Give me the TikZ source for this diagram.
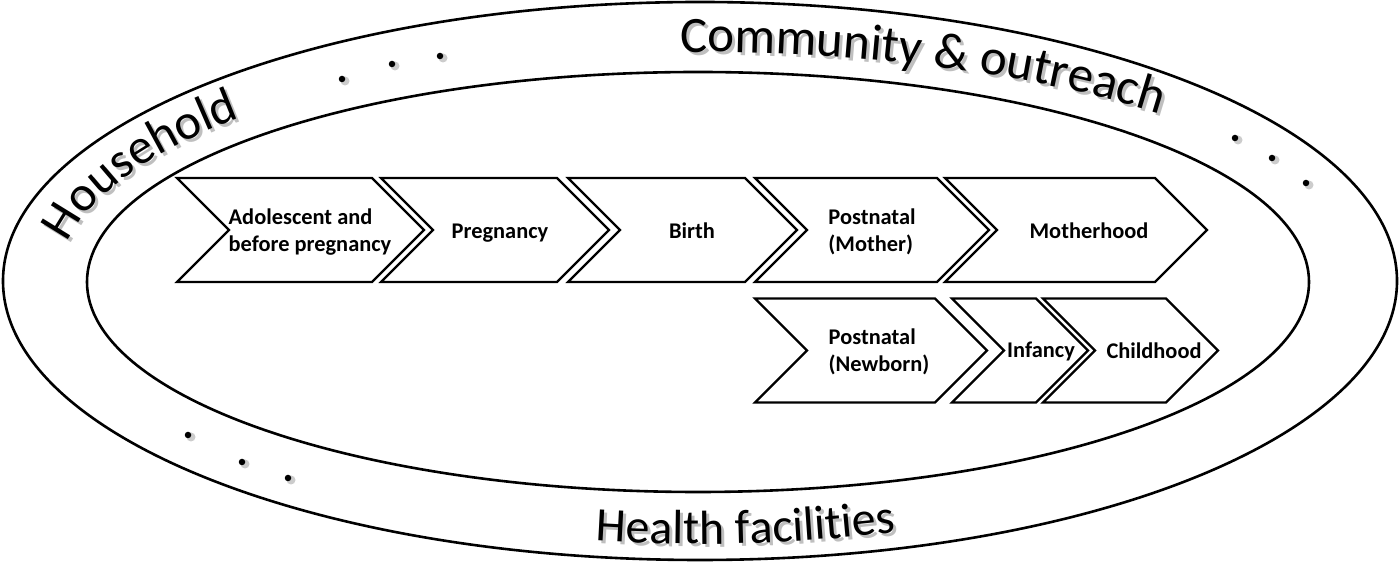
\documentclass[tikz,border=0pt]{standalone}
\usepackage{fontspec}
\setmainfont{Carlito}
\newfontfamily\wordart{Carlito}
\usetikzlibrary{decorations.text}
\tikzset{
  ring/.style={draw, line width=2.6pt},
  chev/.style={draw, line width=2.2pt, line join=miter},
  lab/.style={font=\bfseries\fontsize{22.4}{27}\selectfont, align=left, inner sep=0pt},
  dotmark/.style={circle, fill=black, minimum size=6.5pt, inner sep=0pt},
  dotshadow/.style={circle, fill=black!20, minimum size=9pt, inner sep=0pt},
}
\newcommand\chevshape[3]{%
  \draw[chev] (#1,#3+52) -- (#2,#3+52) -- (#2+52,#3) -- (#2,#3-52) -- (#1,#3-52) -- (#1+52,#3) -- cycle;}
\newcommand\arctext[6]{%
  \foreach \dx/\col in {3/25, 0/100} {%
    \path[decorate, decoration={text along path, text align=left,
      text={|\wordart\fontsize{#5}{#5}\selectfont\color{black!\col}|#6}}]
      (699+\dx,282-\dx) ++(#3:#1 and #2) arc[start angle=#3, end angle=#4, x radius=#1, y radius=#2];
  }}
\begin{document}
\begin{tikzpicture}[x=1pt,y=1pt]
\useasboundingbox (0,0) rectangle (1400,564);
% rings
\draw[ring] (700,283) ellipse[x radius=697, y radius=279];
\draw[ring] (698,282) ellipse[x radius=611, y radius=210];
% curved labels
\arctext{640}{236}{170.6}{115}{50}{Household}
\arctext{674}{230}{91.6}{30}{51}{Community {\&} outreach}
\arctext{660}{262}{261}{310}{48}{Health facilities}
% dots
\foreach \n/\x/\y in {d1/342/485, d2/392/500, d3/440/508, d4/1235/426, d5/1272/406, d6/1306/381, d7/188/129, d8/242/102, d9/288/86} {
  \node[dotshadow] at (\x+3,\y-2) {};
  \node[dotmark] (\n) at (\x,\y) {};
}
% chevrons row 1
\chevshape{177}{372}{334}
\chevshape{381}{557}{334}
\chevshape{568}{745}{334}
\chevshape{755}{937}{334}
\chevshape{945}{1155}{334}
% chevrons row 2
\chevshape{755}{935}{213.5}
\chevshape{952}{1036}{213.5}
\chevshape{1043}{1166}{213.5}
% labels
\node[lab] (adol) at (310,332) {Adolescent and\\before pregnancy};
\node[lab] (preg) at (500,331) {Pregnancy};
\node[lab] (birth) at (692,333) {Birth};
\node[lab] (pmother) at (872,332) {Postnatal\\(Mother)};
\node[lab] (moth) at (1089,333) {Motherhood};
\node[lab] (pnew) at (879,212) {Postnatal\\(Newborn)};
\node[lab] (inf) at (1041,213) {Infancy};
\node[lab] (child) at (1154,213) {Childhood};
\end{tikzpicture}
\end{document}
